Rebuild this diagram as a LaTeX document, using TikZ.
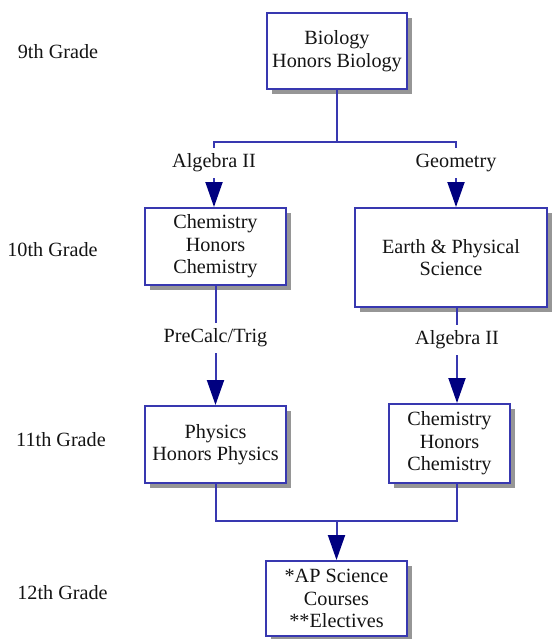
\documentclass[tikz,border=0pt]{standalone}
\usepackage{fontspec}
\setmainfont{Liberation Serif}
\usetikzlibrary{arrows.meta,shadows}
\definecolor{boxblue}{RGB}{56,56,176}
\definecolor{tipnavy}{RGB}{0,0,128}
\definecolor{shadowgray}{RGB}{150,150,150}
\definecolor{txt}{RGB}{20,20,20}
\begin{document}
\begin{tikzpicture}[x=1pt,y=-1pt,
  every node/.style={text=txt, font=\fontsize{20.2}{22.5}\selectfont},
  course/.style={draw=boxblue, line width=2pt, fill=white, align=center,
    inner sep=0pt, drop shadow={shadow xshift=5pt, shadow yshift=-5pt, fill=shadowgray, opacity=1}},
  cond/.style={inner sep=0pt, outer sep=0pt, minimum height=30pt, text height=13pt, text depth=4pt},
  grade/.style={inner sep=0pt},
  conn/.style={draw=boxblue, line width=2pt},
  flow/.style={conn, -{Triangle[width=17pt,length=25pt,color=tipnavy]}}
]
\useasboundingbox (0,0) rectangle (552,639);

% grade labels
\node[grade] (g9)  at (58,52)   {9th Grade};
\node[grade] (g10) at (52.5,250) {10th Grade};
\node[grade] (g11) at (61,440)  {11th Grade};
\node[grade] (g12) at (62.5,593) {12th Grade};

% course boxes
\node[course, minimum width=140pt, minimum height=76pt] (bio) at (337,51) {Biology\\Honors Biology};
\node[course, minimum width=141pt, minimum height=77pt] (chemA) at (215.5,246.5) {Chemistry\\Honors\\Chemistry};
\node[course, minimum width=192pt, minimum height=99pt] (earth) at (451,257.5) {Earth \& Physical\\Science};
\node[course, minimum width=141pt, minimum height=77pt] (phys) at (215.5,444.5) {Physics\\Honors Physics};
\node[course, minimum width=121pt, minimum height=79pt] (chemB) at (449.5,443.5) {Chemistry\\Honors\\Chemistry};
\node[course, minimum width=141pt, minimum height=75pt] (ap) at (336.5,598.5) {*AP Science\\Courses\\**Electives};

% condition labels
\node[cond] (alg1) at (214,163) {Algebra II};
\node[cond] (geo)  at (456,163) {Geometry};
\node[cond] (pre)  at (215.5,338) {PreCalc/Trig};
\node[cond] (alg2) at (457,340) {Algebra II};

\coordinate (split) at (337,142);
\coordinate (merge) at (336.5,521);

% connectors
\draw[conn] (bio.south) -- (split);
\draw[conn] (alg1.north) |- (split) -| (geo.north);
\draw[flow] (alg1.south) -- (alg1.south |- chemA.north);
\draw[flow] (geo.south) -- (geo.south |- earth.north);
\draw[conn] (chemA.south) -- (pre.north);
\draw[flow] (pre.south) -- (phys.north);
\draw[conn] (alg2 |- earth.south) -- (alg2.north);
\draw[flow] (alg2.south) -- (alg2.south |- chemB.north);
\draw[conn] (phys.south) |- (merge) -| (alg2 |- chemB.south);
\draw[flow] (merge) -- (ap.north);
\end{tikzpicture}
\end{document}
